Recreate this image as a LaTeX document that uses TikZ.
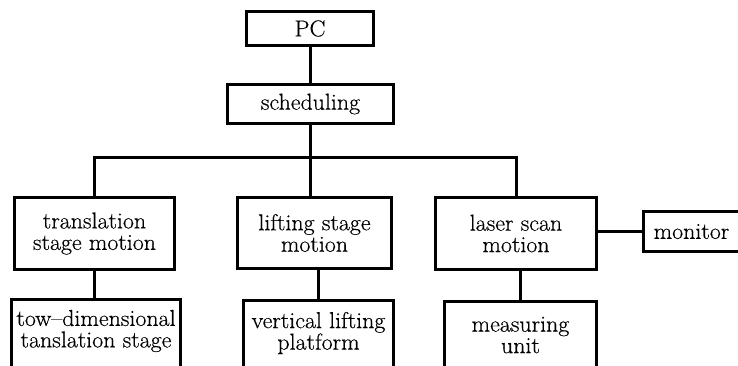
\documentclass[tikz,border=0pt]{standalone}
\usepackage{fontspec}
\setmainfont{Latin Modern Roman}[FakeStretch=1.04,FakeBold=0.4]
\begin{document}
\begin{tikzpicture}[x=1pt,y=-1pt,
  box/.style={draw, line width=3.3pt, align=center, inner sep=0pt},
  txt/.style={align=center, inner sep=0pt},
  conn/.style={line width=3pt},
  every node/.append style={font=\fontsize{23}{21.5}\selectfont}]
\useasboundingbox (0,0) rectangle (738,366);
\clip (0,0) rectangle (738,366);
\node[box, minimum width=127pt, minimum height=34pt] (pc) at (310,28.5) {PC};
\node[box, minimum width=166pt, minimum height=39pt] (sched) at (310.5,104) {scheduling};
\node[box, minimum width=160pt, minimum height=72pt] (trans) at (94.5,233.5) {translation\\stage motion};
\node[box, minimum width=154pt, minimum height=71pt] (lift) at (314.5,233) {lifting stage\\motion};
\node[box, minimum width=161pt, minimum height=72pt] (laser) at (516,233.5) {laser scan\\motion};
\node[box, minimum width=96pt, minimum height=40pt] (mon) at (691.5,231.5) {monitor};
\node[box, minimum width=169pt, minimum height=80pt] (tow) at (96,339.5) {};
\node[box, minimum width=150pt, minimum height=80pt] (vert) at (318.5,340.5) {};
\node[box, minimum width=152pt, minimum height=80pt] (meas) at (520.5,341.5) {};
\node[txt] (towt) at (96,331) {tow--dimensional\\tanslation stage};
\node[txt] (vertt) at (318.5,333) {vertical lifting\\platform};
\node[txt] (meast) at (520.5,335) {measuring\\unit};
\coordinate (bus) at (0,158);
\draw[conn] (pc.south) -- (pc.south |- sched.north);
\draw[conn] (sched.south) -- (sched.south |- lift.north);
\draw[conn] (trans.north) |- (bus -| sched.south) -| (laser.north);
\draw[conn] (trans.south) -- (trans.south |- tow.north);
\draw[conn] (vert.north |- lift.south) -- (vert.north);
\draw[conn] (meas.north |- laser.south) -- (meas.north);
\draw[conn] (laser.east |- mon.west) -- (mon.west);
\end{tikzpicture}
\end{document}
